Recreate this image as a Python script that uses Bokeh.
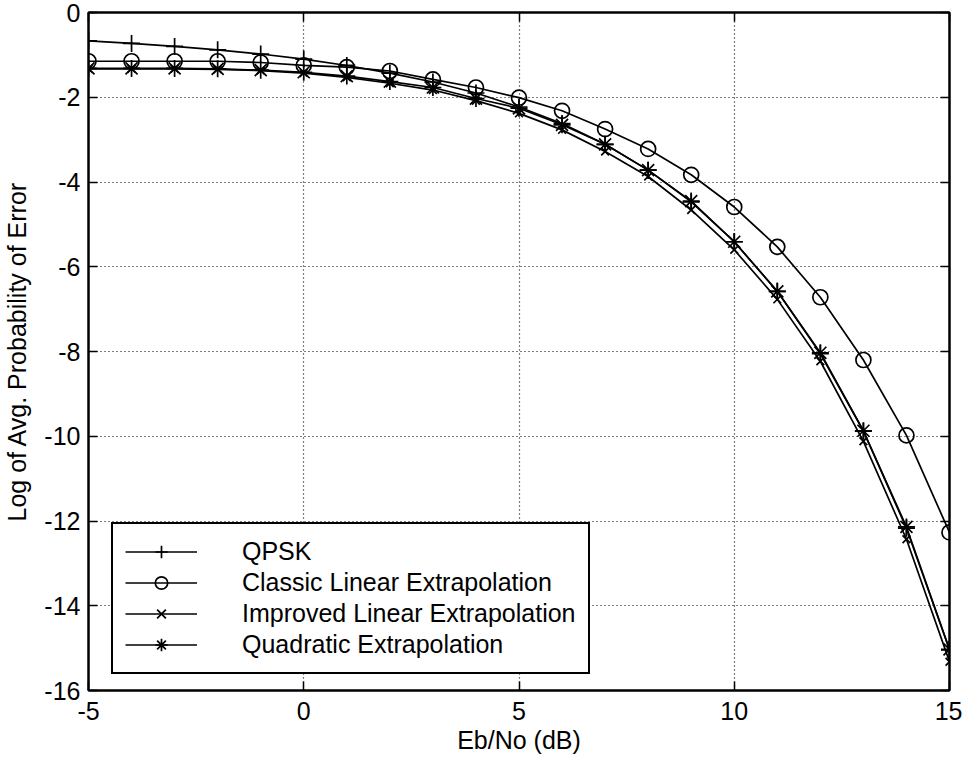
from bokeh.plotting import figure
from bokeh.models import (Range1d, FixedTicker, LinearAxis, Legend, LegendItem,
                          CustomJSTickFormatter)
from bokeh.embed import file_html
from bokeh.resources import INLINE

# ---- data ----
ebno = [-5, -4, -3, -2, -1, 0, 1, 2, 3, 4, 5, 6, 7, 8, 9, 10, 11, 12, 13, 14, 15]
qpsk = [-0.67, -0.73, -0.80, -0.88, -0.98, -1.10, -1.25, -1.43, -1.64, -1.90,
        -2.23, -2.62, -3.11, -3.72, -4.47, -5.41, -6.58, -8.05, -9.88, -12.17, -15.04]
classic = [-1.15, -1.15, -1.15, -1.15, -1.18, -1.25, -1.29, -1.38, -1.58, -1.77,
           -2.01, -2.32, -2.75, -3.22, -3.83, -4.59, -5.53, -6.72, -8.20, -9.98, -12.27]
improved = [-1.33, -1.33, -1.33, -1.34, -1.37, -1.43, -1.53, -1.67, -1.83, -2.08,
            -2.38, -2.77, -3.28, -3.87, -4.66, -5.60, -6.77, -8.23, -10.12, -12.43, -15.32]
quadratic = [-1.32, -1.32, -1.32, -1.33, -1.36, -1.41, -1.50, -1.63, -1.77, -2.03,
             -2.26, -2.65, -3.11, -3.72, -4.45, -5.41, -6.58, -8.03, -9.87, -12.14, -15.03]
series_names = ["QPSK", "Classic Linear Extrapolation",
                "Improved Linear Extrapolation", "Quadratic Extrapolation"]
x_ticks = [-5, 0, 5, 10, 15]
y_ticks = [-16, -14, -12, -10, -8, -6, -4, -2, 0]

FONT = "Liberation Sans"
FS = "25px"
LW = 1.7

p = figure(width=962, height=760, output_backend="svg", toolbar_location=None,
           x_range=Range1d(-5, 15), y_range=Range1d(-16, 0),
           min_border_left=83, min_border_right=13, min_border_top=12,
           min_border_bottom=70, background_fill_color="white",
           border_fill_color="white")

p.outline_line_color = "black"
p.outline_line_width = 2
p.outline_line_alpha = 1.0

p.xaxis.ticker = FixedTicker(ticks=x_ticks)
p.yaxis.ticker = FixedTicker(ticks=y_ticks)
p.xaxis.formatter = CustomJSTickFormatter(code="return tick.toString()")
p.yaxis.formatter = CustomJSTickFormatter(code="return tick.toString()")
p.xaxis.axis_label = "Eb/No (dB)"
p.yaxis.axis_label = "Log of Avg. Probability of Error"

for ax in (p.xaxis, p.yaxis):
    ax.axis_line_color = "black"
    ax.axis_line_width = 2
    ax.major_tick_in = 9
    ax.major_tick_out = 0
    ax.major_tick_line_color = "black"
    ax.major_tick_line_width = 1.5
    ax.minor_tick_line_color = None
    ax.major_label_text_font = FONT
    ax.major_label_text_font_size = FS
    ax.major_label_text_color = "black"
    ax.axis_label_text_font = FONT
    ax.axis_label_text_font_size = FS
    ax.axis_label_text_font_style = "normal"
    ax.axis_label_text_color = "black"

p.xaxis.major_label_standoff = 11
p.xaxis.axis_label_standoff = 3
p.yaxis.major_label_standoff = 8
p.yaxis.axis_label_standoff = 10

for loc, ticks in (("above", x_ticks), ("right", y_ticks)):
    ax = LinearAxis(ticker=FixedTicker(ticks=ticks),
                    formatter=CustomJSTickFormatter(code="return ''"),
                    major_tick_in=9, major_tick_out=0,
                    major_tick_line_color="black", major_tick_line_width=1.5,
                    minor_tick_line_color=None, major_label_standoff=0,
                    axis_line_color="black", axis_line_width=2)
    p.add_layout(ax, loc)

for g in (p.xgrid, p.ygrid):
    g.grid_line_color = "black"
    g.grid_line_dash = "1 3"
    g.grid_line_width = 1.2
p.xgrid.ticker = FixedTicker(ticks=x_ticks)
p.ygrid.ticker = FixedTicker(ticks=y_ticks)

markers = ["cross", "circle", "x", "asterisk"]
sizes = [17, 15, 11, 17]
data = [qpsk, classic, improved, quadratic]
items = []
for name, ys, mk, sz in zip(series_names, data, markers, sizes):
    ln = p.line(ebno, ys, line_color="black", line_width=LW)
    sc = p.scatter(ebno, ys, marker=mk, size=sz, line_color="black",
                   line_width=LW, fill_color=None)
    items.append(LegendItem(label=name, renderers=[ln, sc]))

legend = Legend(items=items, location=(23, 16), margin=0, padding=12,
                spacing=0, glyph_width=72, glyph_height=31, label_height=31,
                label_standoff=45, label_text_font=FONT, label_text_font_size=FS,
                label_text_color="black", border_line_color="black",
                border_line_width=2, border_line_alpha=1.0,
                background_fill_color="white", background_fill_alpha=1.0)
p.add_layout(legend)

open("out.html", "w").write(file_html(p, INLINE))
